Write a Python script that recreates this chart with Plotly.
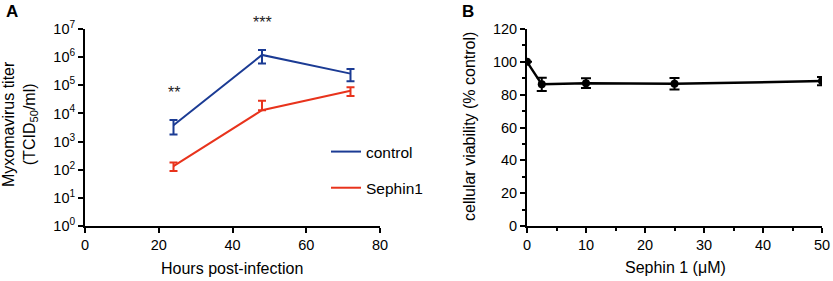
import plotly.graph_objects as go

# Panel A data
hours = [24, 48, 72]
control_titer = [3800, 1.2e6, 2.6e5]
control_err = [2000, 6e5, 1.2e5]
sephin_titer = [135, 13000, 64000]
sephin_err_plus = [45, 15000, 22000]
sephin_err_minus = [45, 0, 22000]
sig_x = [24, 48]
sig_text = ["**", "***"]
decade_vals = [1, 10, 100, 1e3, 1e4, 1e5, 1e6, 1e7]
decade_text = ["10<sup>%d</sup>" % i for i in range(8)]

# Panel B data
conc = [0, 2.5, 10, 25, 50]
viability = [100, 86.3, 87, 86.6, 88.3]
viab_err = [0, 4, 3, 3.5, 2.5]

BLUE = "#1b3b94"
RED = "#e8331c"
FONT = "Liberation Sans, Arial, sans-serif"
W, H = 833, 281

fig = go.Figure()
fig.add_trace(go.Scatter(x=hours, y=control_titer, mode="lines", name="control", legendgroup="c",
                         line=dict(color=BLUE, width=2),
                         error_y=dict(type="data", array=control_err, color=BLUE, thickness=2, width=4),
                         xaxis="x", yaxis="y"))
fig.add_trace(go.Scatter(x=hours, y=sephin_titer, mode="lines", name="Sephin1", legendgroup="s",
                         line=dict(color=RED, width=2),
                         error_y=dict(type="data", symmetric=False, array=sephin_err_plus,
                                      arrayminus=sephin_err_minus, color=RED, thickness=2, width=4),
                         xaxis="x", yaxis="y"))
fig.add_trace(go.Scatter(x=conc, y=viability, mode="lines+markers", showlegend=False,
                         line=dict(color="black", width=2.5),
                         marker=dict(color="black", size=8),
                         error_y=dict(type="data", array=viab_err, color="black", thickness=2, width=5),
                         xaxis="x2", yaxis="y2"))

# significance stars (x in data, y in paper to allow above-axis placement)
sig_ypx = [92, 23]
for xv, ypx, t in zip(sig_x, sig_ypx, sig_text):
    fig.add_annotation(x=xv, y=1 - ypx / H, xref="x", yref="paper", text=t, showarrow=False,
                       font=dict(size=16, color="#222"), yanchor="middle", xanchor="center")

fig.add_annotation(x=12 / W, y=1 - 12 / H, xref="paper", yref="paper", text="<b>A</b>",
                   showarrow=False, font=dict(size=17), xanchor="center", yanchor="middle")
fig.add_annotation(x=468 / W, y=1 - 12 / H, xref="paper", yref="paper", text="<b>B</b>",
                   showarrow=False, font=dict(size=17), xanchor="center", yanchor="middle")
fig.add_annotation(x=20 / W, y=1 - 124 / H, xref="paper", yref="paper",
                   text="Myxomavirus titer<br>(TCID<sub>50</sub>/ml)", textangle=-90,
                   showarrow=False, font=dict(size=16), xanchor="center", yanchor="middle")
fig.add_annotation(x=469 / W, y=1 - 127 / H, xref="paper", yref="paper",
                   text="cellular viability (% control)", textangle=-90,
                   showarrow=False, font=dict(size=16), xanchor="center", yanchor="middle")
fig.add_annotation(x=232 / W, y=1 - 268 / H, xref="paper", yref="paper",
                   text="Hours post-infection", showarrow=False, font=dict(size=16),
                   xanchor="center", yanchor="middle")
fig.add_annotation(x=675 / W, y=1 - 267 / H, xref="paper", yref="paper",
                   text="Sephin 1 (μM)", showarrow=False, font=dict(size=16),
                   xanchor="center", yanchor="middle")

axis_common = dict(showgrid=False, zeroline=False, showline=True, linecolor="black",
                   linewidth=2, ticks="outside", tickcolor="black", tickwidth=2, ticklen=5,
                   tickfont=dict(size=14.5, color="black"))

fig.update_layout(
    width=W, height=H,
    margin=dict(l=0, r=0, t=0, b=0, autoexpand=False),
    paper_bgcolor="white", plot_bgcolor="white",
    font=dict(family=FONT, color="black"),
    xaxis=dict(domain=[85 / W, 380 / W], range=[0, 80], dtick=20, anchor="y", **axis_common),
    yaxis=dict(domain=[1 - 226 / H, 1 - 29 / H], type="log", range=[0, 7],
               tickvals=decade_vals, ticktext=decade_text, anchor="x", **axis_common),
    xaxis2=dict(domain=[527 / W, 822 / W], range=[0, 50], dtick=10, anchor="y2",
                minor=dict(dtick=5, ticks="outside", ticklen=3, tickwidth=2, tickcolor="black"),
                **axis_common),
    yaxis2=dict(domain=[1 - 226 / H, 1 - 29 / H], range=[0, 120], dtick=20, anchor="x2",
                minor=dict(dtick=10, ticks="outside", ticklen=3, tickwidth=2, tickcolor="black"),
                **axis_common),
    legend=dict(x=326 / W, y=1 - 135 / H, xanchor="left", yanchor="top",
                bgcolor="rgba(0,0,0,0)", font=dict(size=15.5), traceorder="grouped",
                tracegroupgap=13, itemwidth=30),
)
fig.write_html("out.html", config={"displayModeBar": False},
               post_script="document.body.style.margin='0';document.body.style.overflow='hidden';")
